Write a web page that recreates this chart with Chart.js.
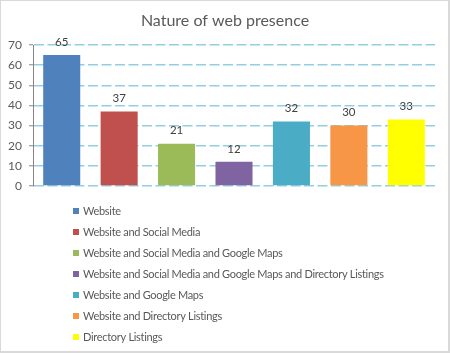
<!DOCTYPE html>
<html>
<head>
<meta charset="utf-8">
<script src="https://cdn.jsdelivr.net/npm/chart.js@4.4.1/dist/chart.umd.min.js"></script>
<style>
  html, body { margin: 0; padding: 0; background: #fff; }
  #wrap { position: relative; width: 450px; height: 353px; overflow: hidden; }
  #c { position: absolute; left: 0; top: 0; }
  #frame { position: absolute; left: 0; top: 0; width: 450px; height: 353px; box-sizing: border-box;
           border-left: 1px solid #d9d9d9; border-top: 1px solid #d9d9d9;
           border-right: 2px solid #d9d9d9; border-bottom: 2px solid #d9d9d9; pointer-events: none; }
</style>
</head>
<body>
<div id="wrap">
  <canvas id="c" width="450" height="353"></canvas>
  <div id="frame"></div>
</div>
<script>
const titleText = "Nature of web presence";
const seriesNames = [
  "Website",
  "Website and Social Media",
  "Website and Social Media and Google Maps",
  "Website and Social Media and Google Maps and Directory Listings",
  "Website and Google Maps",
  "Website and Directory Listings",
  "Directory Listings"
];
const seriesValues = [65, 37, 21, 12, 32, 30, 33];
const seriesColors = ["#4f81bd", "#c0504d", "#9bbb59", "#8064a2", "#4bacc6", "#f79646", "#ffff00"];
const yTicks = [0, 10, 20, 30, 40, 50, 60, 70];

const FONT = "Lato, 'Open Sans', sans-serif";

const datasets = seriesNames.map((name, i) => ({
  label: name,
  data: [seriesValues[i]],
  backgroundColor: seriesColors[i],
  borderColor: seriesColors[i],
  borderWidth: 0,
  barPercentage: 0.645,
  categoryPercentage: 1.0
}));

const centeredTitle = {
  id: 'centeredTitle',
  afterDraw(chart) {
    const ctx = chart.ctx;
    ctx.save();
    ctx.font = "16px " + FONT;
    ctx.fillStyle = "#595959";
    ctx.textAlign = "center";
    ctx.textBaseline = "middle";
    ctx.fillText(titleText, chart.width / 2, 21);
    ctx.restore();
  }
};

const valueLabels = {
  id: 'valueLabels',
  afterDatasetsDraw(chart) {
    const ctx = chart.ctx;
    ctx.save();
    ctx.font = "11.5px " + FONT;
    ctx.fillStyle = "#404040";
    ctx.textAlign = "center";
    ctx.textBaseline = "middle";
    chart.data.datasets.forEach((ds, i) => {
      const meta = chart.getDatasetMeta(i);
      meta.data.forEach((bar, j) => {
        ctx.fillText(String(ds.data[j]), bar.x, bar.y - 13);
      });
    });
    ctx.restore();
  }
};

const listLegend = {
  id: 'listLegend',
  afterDraw(chart) {
    const ctx = chart.ctx;
    ctx.save();
    ctx.font = "11px " + FONT;
    try { ctx.letterSpacing = "-0.3px"; } catch (e) {}
    ctx.textBaseline = "middle";
    ctx.textAlign = "left";
    chart.data.datasets.forEach((ds, i) => {
      const y = 211 + i * 21;
      ctx.fillStyle = ds.backgroundColor;
      ctx.fillRect(73, y - 3, 6, 6);
      ctx.fillStyle = "#595959";
      ctx.fillText(ds.label, 83, y);
    });
    ctx.restore();
  }
};

new Chart(document.getElementById('c'), {
  type: 'bar',
  data: { labels: [""], datasets },
  options: {
    responsive: false,
    animation: false,
    layout: { padding: { left: 0, right: 15, top: 45, bottom: 167 } },
    plugins: {
      legend: { display: false },
      tooltip: { enabled: false },
      title: { display: false }
    },
    scales: {
      x: { display: false },
      y: {
        min: 0, max: 70,
        afterBuildTicks(scale) { scale.ticks = yTicks.map(v => ({ value: v })); },
        afterFit(scale) { scale.width = 33; },
        ticks: {
          color: "#595959",
          font: { family: FONT, size: 12 },
          padding: 7
        },
        grid: {
          color: "#93cfe0",
          lineWidth: 1.5,
          drawTicks: true,
          tickLength: 4,
          tickColor: "#868686",
          tickWidth: 1,
          tickBorderDash: []
        },
        border: { display: true, color: "#868686", width: 1, dash: [10, 3.5] }
      }
    }
  },
  plugins: [valueLabels, listLegend, centeredTitle]
});
</script>
</body>
</html>
